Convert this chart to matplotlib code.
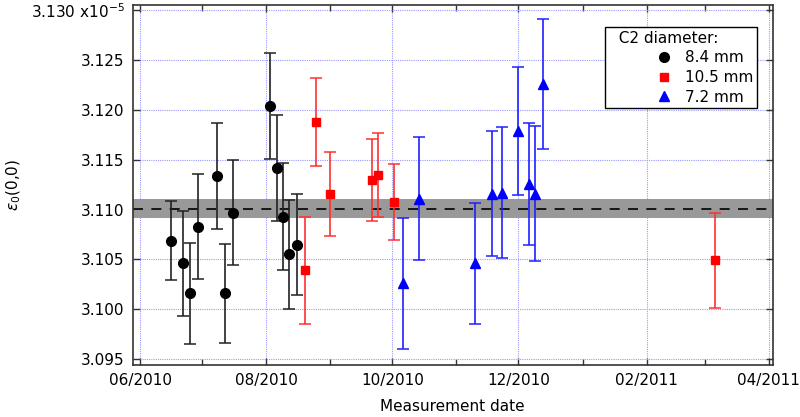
import matplotlib
matplotlib.use("Agg")
import matplotlib.pyplot as plt
import matplotlib.dates as mdates
from matplotlib.ticker import FuncFormatter, MultipleLocator
from matplotlib.lines import Line2D
from datetime import datetime

plt.rcParams['font.family'] = ['DejaVu Sans']
plt.rcParams['font.size'] = 11

# ---- data (values in units of 1e-5) ----
dates_84 = ["2010-06-16", "2010-06-22", "2010-06-25", "2010-06-29", "2010-07-08",
            "2010-07-12", "2010-07-16", "2010-08-03", "2010-08-06", "2010-08-09",
            "2010-08-12", "2010-08-16"]
vals_84 = [3.1069, 3.1046, 3.1016, 3.1083, 3.1134, 3.1016, 3.1097, 3.1204,
           3.1142, 3.1093, 3.1055, 3.1065]
errs_84 = [0.0040, 0.0053, 0.0051, 0.0053, 0.0053, 0.0050, 0.0053, 0.0053,
           0.0053, 0.0054, 0.0055, 0.0051]

dates_105 = ["2010-08-20", "2010-08-25", "2010-09-01", "2010-09-21", "2010-09-24",
             "2010-10-02", "2011-03-06"]
vals_105 = [3.1039, 3.1188, 3.1116, 3.1130, 3.1135, 3.1108, 3.1049]
errs_105 = [0.0054, 0.0044, 0.0042, 0.0041, 0.0042, 0.0038, 0.0048]

dates_72 = ["2010-10-06", "2010-10-14", "2010-11-10", "2010-11-18", "2010-11-23",
            "2010-12-01", "2010-12-06", "2010-12-09", "2010-12-13"]
vals_72 = [3.1026, 3.1111, 3.1046, 3.1116, 3.1117, 3.1179, 3.1126, 3.1116, 3.1226]
errs_72 = [0.0066, 0.0062, 0.0061, 0.0063, 0.0066, 0.0064, 0.0061, 0.0068, 0.0065]

mean_value = 3.1101
band_low = 3.1092
band_high = 3.1111

labels = ["8.4 mm", "10.5 mm", "7.2 mm"]


def to_dt(lst):
    return [datetime.strptime(s, "%Y-%m-%d") for s in lst]


fig = plt.figure(figsize=(8.0, 4.17), dpi=100)
ax = fig.add_axes([0.166, 0.1247, 0.800, 0.8633])

ax.axhspan(band_low, band_high, color='#999999', zorder=1, lw=0)
ax.axhline(mean_value, color='black', lw=1.2, ls=(0, (6, 5)), zorder=2)

series = [
    (dates_84, vals_84, errs_84, 'o', 'black', '#222222', 7.0),
    (dates_105, vals_105, errs_105, 's', '#ff0000', '#ff3030', 6.0),
    (dates_72, vals_72, errs_72, '^', '#0000ff', '#2020ff', 7.0),
]
for (d, v, e, m, c, ec, ms), lab in zip(series, labels):
    ax.errorbar(to_dt(d), v, yerr=e, fmt=m, color=c, ecolor=ec, ms=ms,
                elinewidth=1.2, capsize=4, capthick=1.1, zorder=4, label=lab)

# axes limits / ticks
ax.set_xlim(datetime(2010, 5, 28, 12), datetime(2011, 4, 3))
ax.set_ylim(3.0944, 3.13055)
ax.xaxis.set_major_locator(mdates.MonthLocator(bymonth=[2, 4, 6, 8, 10, 12]))
ax.xaxis.set_minor_locator(mdates.MonthLocator())
ax.xaxis.set_major_formatter(mdates.DateFormatter('%m/%Y'))
ax.yaxis.set_major_locator(MultipleLocator(0.005))


def yfmt(v, pos):
    if abs(v - 3.130) < 1e-6:
        return r'3.130 x10$^{-5}$'
    return f'{v:.3f}'


ax.yaxis.set_major_formatter(FuncFormatter(yfmt))

ax.tick_params(which='both', direction='in', top=True, right=True,
               color='#333333', labelsize=11)
ax.tick_params(which='major', length=5, width=1.0, pad=6)
ax.tick_params(which='minor', length=4, width=1.0)
ax.tick_params(axis='y', which='minor', left=False, right=False)

ax.grid(True, which='major', color='#9999ff', ls=(0, (1, 1)), lw=0.8, zorder=0)
ax.set_axisbelow(True)
for sp in ax.spines.values():
    sp.set_color('#333333')
    sp.set_linewidth(1.2)

ax.set_xlabel('Measurement date', fontsize=11)
ax.xaxis.set_label_coords(0.5, -0.095)
ax.set_ylabel(r'$\epsilon_0$(0,0)', fontsize=11)
ax.yaxis.set_label_coords(-0.172, 0.5)

# legend (markers only)
leg_handles = [Line2D([], [], marker=s[3], color=s[4], ls='none', ms=s[6])
               for s in series]
leg = ax.legend(leg_handles, labels, title='  C2 diameter:', loc='upper right',
                bbox_to_anchor=(0.975, 0.939), borderaxespad=0, frameon=True,
                fancybox=False, edgecolor='black', framealpha=1, fontsize=11,
                title_fontsize=11, alignment='left', handlelength=7.1,
                handletextpad=-2.17, labelspacing=0.3, borderpad=0.25,
                numpoints=1)
leg.get_frame().set_linewidth(1.0)

fig.savefig('out.png', dpi=100)
